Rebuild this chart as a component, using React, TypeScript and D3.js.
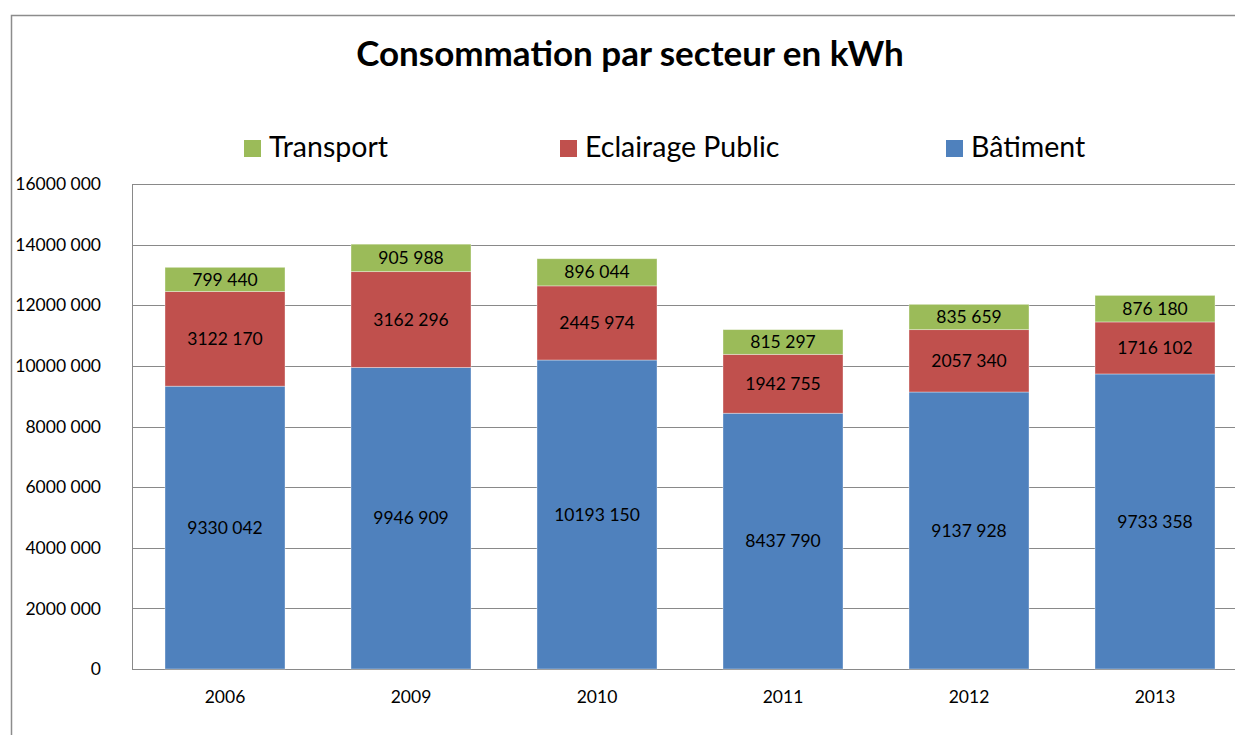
import React, { useEffect, useRef } from 'react';
import * as d3 from 'd3';

const years = ['2006', '2009', '2010', '2011', '2012', '2013'];
const batiment = [9330042, 9946909, 10193150, 8437790, 9137928, 9733358];
const eclairage = [3122170, 3162296, 2445974, 1942755, 2057340, 1716102];
const transport = [799440, 905988, 896044, 815297, 835659, 876180];
const yTicks = [0, 2000000, 4000000, 6000000, 8000000, 10000000, 12000000, 14000000, 16000000];

const series = [
  { key: 'batiment', label: 'Bâtiment', color: '#4F81BD', values: batiment },
  { key: 'eclairage', label: 'Eclairage Public', color: '#C0504D', values: eclairage },
  { key: 'transport', label: 'Transport', color: '#9BBB59', values: transport },
];

// excel style "# ###" : only the last group is separated
const fmt = (v: number) => {
  if (v === 0) return '0';
  const s = String(Math.round(v));
  if (s.length <= 3) return s;
  return s.slice(0, -3) + ' ' + s.slice(-3);
};

const FONT = 'Lato, "Open Sans", sans-serif';

export default function App() {
  const ref = useRef<SVGSVGElement>(null);

  useEffect(() => {
    const svg = d3.select(ref.current);
    svg.selectAll('*').remove();
    const width = 1235;
    const height = 735;
    svg.attr('width', width).attr('height', height);

    // outer chart frame
    svg
      .append('rect')
      .attr('x', 11.5)
      .attr('y', 15.5)
      .attr('width', 1240)
      .attr('height', 760)
      .attr('fill', '#fff')
      .attr('stroke', '#8c8c8c')
      .attr('stroke-width', 1.5);

    const plot = { left: 132, top: 184, right: 1248, bottom: 669 };

    const x = d3
      .scaleBand()
      .domain(years)
      .range([plot.left, plot.right])
      .paddingInner(66 / 186)
      .paddingOuter(33 / 186);
    const y = d3.scaleLinear().domain([0, 16000000]).range([plot.bottom, plot.top]);

    // gridlines
    svg
      .append('g')
      .selectAll('line')
      .data(yTicks)
      .join('line')
      .attr('x1', plot.left)
      .attr('x2', plot.right)
      .attr('y1', d => Math.round(y(d)) + 0.5)
      .attr('y2', d => Math.round(y(d)) + 0.5)
      .attr('stroke', '#898989')
      .attr('stroke-width', 1);

    svg
      .append('line')
      .attr('x1', plot.left + 0.5)
      .attr('x2', plot.left + 0.5)
      .attr('y1', plot.top)
      .attr('y2', plot.bottom)
      .attr('stroke', '#898989');

    // y labels
    svg
      .append('g')
      .selectAll('text')
      .data(yTicks)
      .join('text')
      .attr('x', 101)
      .attr('y', d => y(d))
      .attr('dy', '0.35em')
      .attr('text-anchor', 'end')
      .attr('font-family', FONT)
      .attr('font-size', 17.5)
      .attr('fill', '#000')
      .text(d => fmt(d));

    // x labels
    svg
      .append('g')
      .selectAll('text')
      .data(years)
      .join('text')
      .attr('x', d => (x(d) as number) + x.bandwidth() / 2)
      .attr('y', 697)
      .attr('dy', '0.35em')
      .attr('text-anchor', 'middle')
      .attr('font-family', FONT)
      .attr('font-size', 17.5)
      .attr('fill', '#000')
      .text(d => d);

    const rows = years.map((yr, i) => {
      const r: any = { year: yr };
      series.forEach(s => (r[s.key] = s.values[i]));
      return r;
    });
    const stacked = d3.stack().keys(series.map(s => s.key))(rows);

    const layers = svg
      .append('g')
      .selectAll('g')
      .data(stacked)
      .join('g')
      .attr('fill', (d, i) => series[i].color);

    layers
      .selectAll('rect')
      .data(d => d)
      .join('rect')
      .attr('x', d => x(d.data.year as any) as number)
      .attr('width', x.bandwidth())
      .attr('y', d => y(d[1]))
      .attr('height', d => y(d[0]) - y(d[1]))
      .attr('stroke', 'rgba(255,255,255,0.45)')
      .attr('stroke-width', 0.8);

    layers
      .selectAll('text')
      .data(d => d)
      .join('text')
      .attr('x', d => (x(d.data.year as any) as number) + x.bandwidth() / 2)
      .attr('y', d => (y(d[0]) + y(d[1])) / 2)
      .attr('dy', '0.35em')
      .attr('text-anchor', 'middle')
      .attr('font-family', FONT)
      .attr('font-size', 17.5)
      .attr('fill', '#000')
      .text(d => fmt(d[1] - d[0]));

    // title
    svg
      .append('text')
      .attr('x', 630)
      .attr('y', 66)
      .attr('text-anchor', 'middle')
      .attr('font-family', FONT)
      .attr('font-weight', 'bold')
      .attr('font-size', 35)
      .attr('fill', '#000')
      .text('Consommation par secteur en kWh');

    // legend
    const legendItems = [
      { s: series[2], x: 244 },
      { s: series[1], x: 560 },
      { s: series[0], x: 946 },
    ];
    const lg = svg
      .append('g')
      .selectAll('g')
      .data(legendItems)
      .join('g')
      .attr('transform', d => `translate(${d.x},140)`);
    lg.append('rect').attr('width', 17).attr('height', 17).attr('fill', d => d.s.color);
    lg
      .append('text')
      .attr('x', 25)
      .attr('y', 17)
      .attr('font-family', FONT)
      .attr('font-size', 28.5)
      .attr('fill', '#000')
      .text(d => d.s.label);
  }, []);

  return <svg ref={ref} style={{ position: 'absolute', left: 0, top: 0, display: 'block' }} />;
}
